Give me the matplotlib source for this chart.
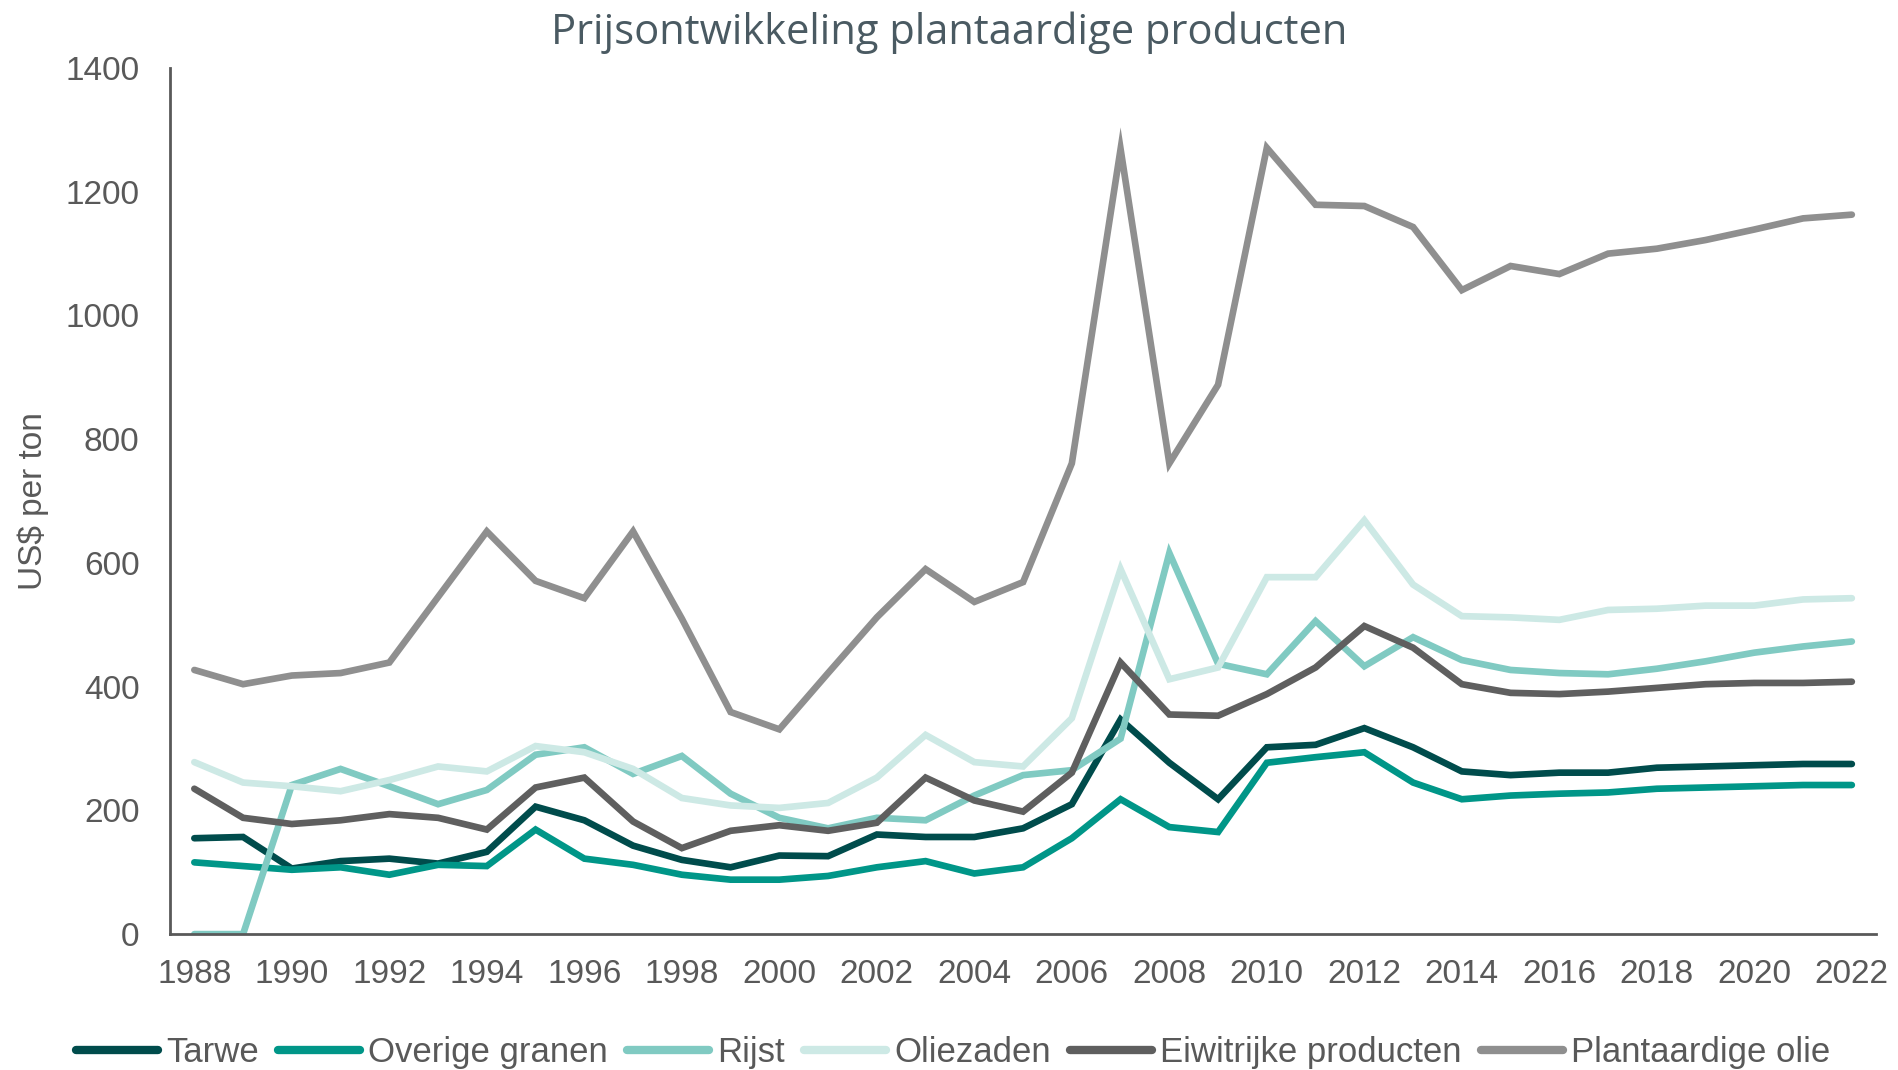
import matplotlib.pyplot as plt

years = list(range(1988, 2023))

tarwe = [155, 157, 106, 118, 122, 114, 133, 206, 184, 143, 120, 108, 127, 126, 161, 157, 157, 171,
         210, 347, 277, 218, 302, 306, 333, 302, 263, 257, 261, 261, 269, 271, 273, 275, 275]
overige_granen = [116, 110, 104, 108, 96, 112, 110, 169, 122, 112, 96, 88, 88, 94, 108, 118, 98, 108,
                  155, 218, 173, 165, 277, 286, 294, 245, 218, 224, 227, 229, 235, 237, 239, 241, 241]
rijst = [0, 0, 241, 267, 239, 210, 233, 290, 302, 259, 288, 227, 188, 171, 188, 184, 224, 257,
         265, 316, 616, 437, 420, 506, 433, 480, 443, 427, 422, 420, 429, 441, 455, 465, 473]
oliezaden = [278, 245, 239, 231, 249, 271, 263, 304, 294, 267, 220, 208, 204, 212, 253, 322, 278, 271,
             349, 590, 412, 431, 577, 577, 669, 565, 514, 512, 508, 524, 526, 531, 531, 541, 543]
eiwitrijk = [235, 188, 178, 184, 194, 188, 169, 237, 253, 182, 139, 167, 176, 167, 180, 253, 216, 198,
             261, 439, 355, 353, 388, 431, 498, 463, 404, 390, 388, 392, 398, 404, 406, 406, 408]
plant_olie = [427, 404, 418, 422, 439, 545, 651, 571, 543, 651, 510, 359, 331, 422, 512, 590, 537, 569,
              761, 1269, 761, 888, 1271, 1179, 1177, 1143, 1041, 1080, 1067, 1100, 1108, 1122, 1139, 1157, 1163]

series = [
    ('Tarwe', tarwe, '#004c4c'),
    ('Overige granen', overige_granen, '#009688'),
    ('Rijst', rijst, '#80cac2'),
    ('Oliezaden', oliezaden, '#cde9e5'),
    ('Eiwitrijke producten', eiwitrijk, '#5f5f5f'),
    ('Plantaardige olie', plant_olie, '#8f8f8f'),
]

grey = '#595959'
plt.rcParams['font.family'] = ['Liberation Sans', 'DejaVu Sans']

fig = plt.figure(figsize=(18.99, 10.70), dpi=100)
ax = fig.add_axes([0.0895, 0.127, 0.8985, 0.8094])

# lijnen per product
for name, vals, col in series:
    ax.plot(years, vals, color=col, lw=4.8, label=name, solid_joinstyle='miter', solid_capstyle='round')

ax.set_xlim(1987.5, 2022.5)
ax.set_ylim(0, 1400)
ax.set_xticks(range(1988, 2023, 2))
ax.set_yticks(range(0, 1401, 200))
ax.tick_params(length=0, labelsize=24, colors=grey)
ax.tick_params(axis='x', pad=18)
ax.tick_params(axis='y', pad=22)
for s in ['top', 'right']:
    ax.spines[s].set_visible(False)
for s in ['left', 'bottom']:
    ax.spines[s].set_color(grey)
    ax.spines[s].set_linewidth(2)

ax.yaxis.set_label_coords((33 - 170) / 1706, 0.5)
ax.set_ylabel('US$ per ton', fontsize=24, color=grey, va='center')
fig.text(0.5, 0.969, 'Prijsontwikkeling plantaardige producten', ha='center', va='center',
         fontsize=30, color='#4a5a62', family=['Open Sans', 'DejaVu Sans'])

leg = fig.legend(loc='center', bbox_to_anchor=(0.502, 0.016), ncol=6, frameon=False, fontsize=25,
                 labelcolor=grey, handlelength=2.35, handletextpad=0.25, columnspacing=0.55)
for h in leg.get_lines():
    h.set_linewidth(6)
    h.set_solid_capstyle('round')

fig.savefig('out.png', dpi=100)
